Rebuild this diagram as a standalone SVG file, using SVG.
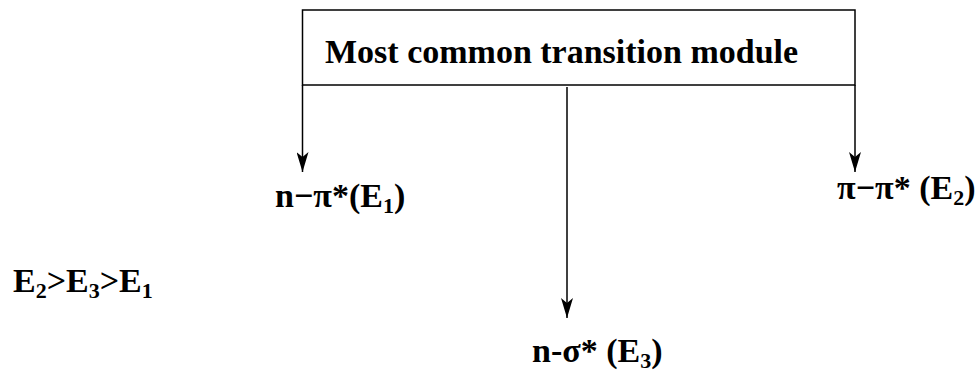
<svg xmlns="http://www.w3.org/2000/svg" width="978" height="374" viewBox="0 0 978 374">
<defs>
<marker id="ah" viewBox="0 0 20 12" refX="20" refY="6" markerWidth="20" markerHeight="12" markerUnits="userSpaceOnUse" orient="auto">
<path d="M0,0 L20,6 L0,12 L5,6 Z" fill="#000"/>
</marker>
</defs>
<style>
text{font-family:"Liberation Serif","Times New Roman",serif;font-weight:bold;fill:#000;font-size:34px}
.s{font-size:22px}
line{stroke:#000;stroke-width:1.5}
</style>
<g id="module">
<rect x="302.5" y="10" width="552.5" height="75" fill="#fff" stroke="#000" stroke-width="1.5"/>
<text x="325" y="63">Most common transition module</text>
</g>
<g id="connectors">
<line x1="302.5" y1="85" x2="302.5" y2="172" marker-end="url(#ah)"/>
<line x1="567" y1="87" x2="567" y2="318" marker-end="url(#ah)"/>
<line x1="855" y1="85" x2="855" y2="172" marker-end="url(#ah)"/>
</g>
<g id="n-pi">
<text x="275" y="207">n−π*(E<tspan class="s" dy="6">1</tspan><tspan dy="-6">)</tspan></text>
</g>
<g id="pi-pi">
<text x="837" y="199">π−π* (E<tspan class="s" dy="6">2</tspan><tspan dy="-6">)</tspan></text>
</g>
<g id="n-sigma">
<text x="532" y="362">n-σ* (E<tspan class="s" dy="6">3</tspan><tspan dy="-6">)</tspan></text>
</g>
<g id="order">
<text x="13" y="292">E<tspan class="s" dy="6">2</tspan><tspan dy="-6">&gt;E</tspan><tspan class="s" dy="6">3</tspan><tspan dy="-6">&gt;E</tspan><tspan class="s" dy="6">1</tspan></text>
</g>
</svg>
